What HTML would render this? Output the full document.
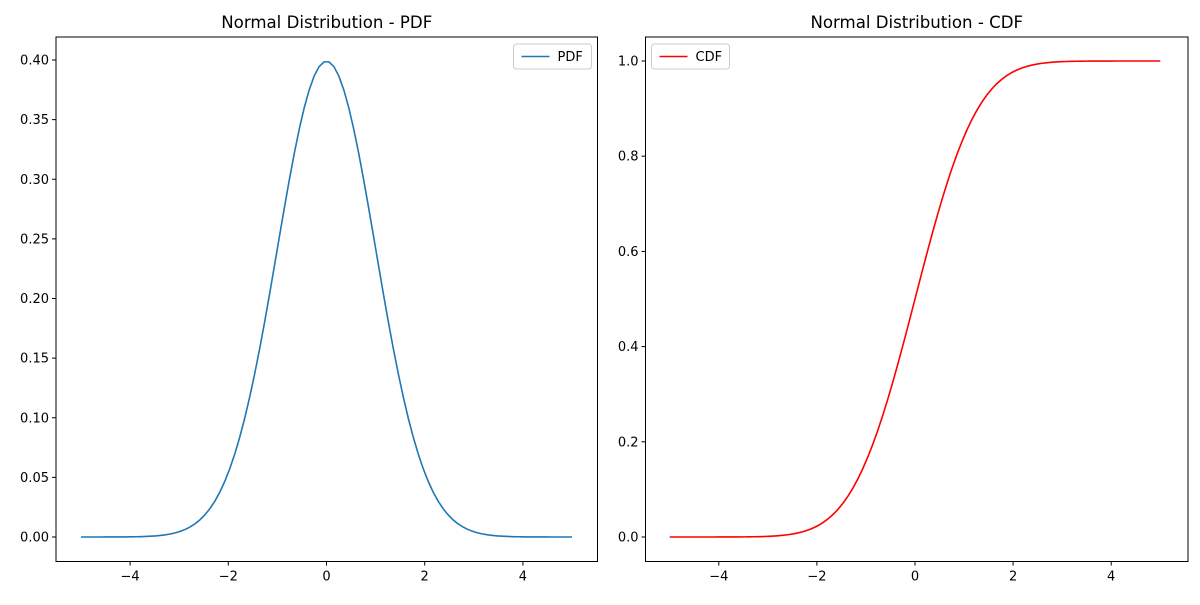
<!DOCTYPE html>
<html><head><meta charset="utf-8"><style>
body{margin:0;background:#fff}
svg text{font-family:"DejaVu Sans","Liberation Sans",sans-serif;fill:#000}
</style></head><body>
<svg id="s" width="1200" height="600" xmlns="http://www.w3.org/2000/svg">
<rect width="1200" height="600" fill="#fff"/>
</svg>
<script>
const s=document.getElementById('s');let h='';
function ax(x0,x1,y0,y1,title,yt,yfmt,xz,xu,yz,yu,fn,col,leg,legRight){
 h+=`<rect x="${x0}" y="${y0}" width="${x1-x0}" height="${y1-y0}" fill="none" stroke="#000" stroke-width="1"/>`;
 h+=`<text x="${(x0+x1)/2}" y="${y0-9}" font-size="16.6" text-anchor="middle">${title}</text>`;
 for(const v of [-4,-2,0,2,4]){const x=xz+v*xu;h+=`<line x1="${x}" y1="${y1}" x2="${x}" y2="${y1+4}" stroke="#000"/><text x="${x}" y="${y1+19}" font-size="13" text-anchor="middle">${v<0?'−'+(-v):v}</text>`;}
 for(const v of yt){const y=yz-v*yu;h+=`<line x1="${x0-4}" y1="${y}" x2="${x0}" y2="${y}" stroke="#000"/><text x="${x0-7}" y="${y+4.5}" font-size="13" text-anchor="end">${v.toFixed(yfmt)}</text>`;}
 let p='';for(let i=0;i<100;i++){const x=-5+10*i/99;p+=(i?'L':'M')+(xz+x*xu).toFixed(2)+','+(yz-fn(x)*yu).toFixed(2);}
 h+=`<path d="${p}" fill="none" stroke="${col}" stroke-width="1.6"/>`;
 const lw=78, lx=legRight?x1-lw-6:x0+6, ly=y0+7;
 h+=`<rect x="${lx}" y="${ly}" width="${lw}" height="25" rx="3" fill="#fff" stroke="#ccc"/>`;
 h+=`<line x1="${lx+8}" y1="${ly+12.5}" x2="${lx+36}" y2="${ly+12.5}" stroke="${col}" stroke-width="1.6"/><text x="${lx+44}" y="${ly+17}" font-size="13">${leg}</text>`;
}
const pdf=x=>Math.exp(-x*x/2)/Math.sqrt(2*Math.PI);
function erf(x){const t=1/(1+0.3275911*Math.abs(x));const y=1-(((((1.061405429*t-1.453152027)*t)+1.421413741)*t-0.284496736)*t+0.254829592)*t*Math.exp(-x*x);return x>=0?y:-y;}
const cdf=x=>0.5*(1+erf(x/Math.SQRT2));
ax(56,597.5,37,561.5,'Normal Distribution - PDF',[0,0.05,0.1,0.15,0.2,0.25,0.3,0.35,0.4],2,326.5,49.1,537,1192.5,pdf,'#1f77b4','PDF',true);
ax(645.5,1188,37,561.5,'Normal Distribution - CDF',[0,0.2,0.4,0.6,0.8,1.0],1,915,49.05,537,476,cdf,'#ff0000','CDF',false);
s.innerHTML+=h;
</script>
</body></html>
